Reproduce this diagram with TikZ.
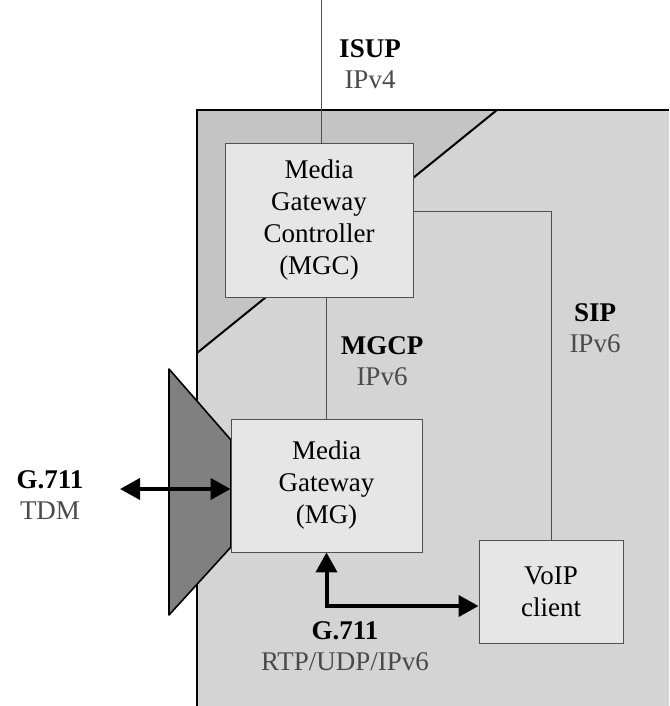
\documentclass[tikz,border=0pt]{standalone}
\usepackage{fontspec}
\setmainfont{Liberation Serif}
\usetikzlibrary{arrows.meta,positioning}

\definecolor{framegray}{HTML}{D4D4D4}
\definecolor{cornergray}{HTML}{C4C4C4}
\definecolor{boxgray}{HTML}{E6E6E6}
\definecolor{muxgray}{HTML}{808080}
\definecolor{labelgray}{HTML}{4A4A4A}
\definecolor{linegray}{HTML}{505050}

\tikzset{
  unit/.style={draw=linegray, fill=boxgray, line width=0.9pt, align=center,
    inner sep=0pt, font=\fontsize{27}{32}\selectfont},
  proto/.style={align=center, inner sep=0pt, font=\fontsize{27}{31}\selectfont},
  signal/.style={draw=linegray, line width=0.9pt},
  media/.style={line width=4pt,
    {Triangle[length=20pt,width=21pt]}-{Triangle[length=20pt,width=21pt]}},
}
\newcommand{\protolabel}[2]{\textbf{#1}\\\textcolor{labelgray}{#2}}

\begin{document}
\begin{tikzpicture}[x=1pt, y=-1pt]
  \useasboundingbox (0,0) rectangle (669,706);

  % domain frame
  \fill[framegray] (197,110) rectangle (669,706);
  \fill[cornergray] (197,110) -- (497,110) -- (197,353) -- cycle;
  \draw[line width=2pt] (497,110) -- (197,353);
  \draw[line width=2pt] (197,706) -- (197,110) -- (669,110);

  % TDM multiplexer
  \draw[fill=muxgray, line width=1.6pt, line join=round]
    (169,369) -- (231,440) -- (231,547) -- (169,615) -- cycle;

  % boxes
  \node[unit, minimum width=188pt, minimum height=154pt] (mgc) at (319,220)
    {Media\\Gateway\\Controller\\(MGC)};
  \node[unit, minimum width=191pt, minimum height=133pt] (mg) at (326.5,485.5)
    {Media\\Gateway\\(MG)};
  \node[unit, minimum width=144pt, minimum height=103pt] (voip) at (551,591.5)
    {VoIP\\client};

  % signalling
  \coordinate (isuptop) at (321,0);
  \draw[signal] (isuptop) -- (isuptop |- mgc.north);
  \draw[signal] (mgc.south -| mg.north) -- (mg.north);
  \draw[signal] ([yshift=9pt]mgc.east) -| (voip.north);

  % media
  \coordinate (tdmend) at (120,489);
  \draw[media] (tdmend) -- (mg.west |- tdmend);
  \draw[media] (mg.south) |- ([yshift=-14.5pt]voip.west);

  % labels
  \node[proto] (isup) at (370,64) {\protolabel{ISUP}{IPv4}};
  \node[proto] (mgcp) at (382,361) {\protolabel{MGCP}{IPv6}};
  \node[proto] (sip) at (595,328) {\protolabel{SIP}{IPv6}};
  \node[proto] (tdm) at (50,495) {\protolabel{G.711}{TDM}};
  \node[proto] (rtp) at (345,646) {\protolabel{G.711}{RTP/UDP/IPv6}};
\end{tikzpicture}
\end{document}
